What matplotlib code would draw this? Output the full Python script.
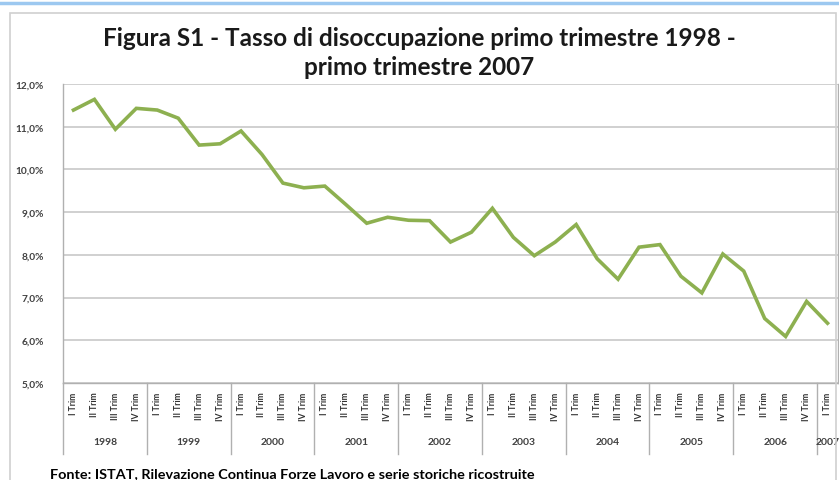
import matplotlib
matplotlib.use("Agg")
import matplotlib.pyplot as plt
from matplotlib.patches import Rectangle
import matplotlib.transforms as mtransforms

# ---- data ----
years = ["1998", "1999", "2000", "2001", "2002", "2003", "2004", "2005", "2006", "2007"]
quarters = ["I Trim", "II Trim", "III Trim", "IV Trim"]
quarters_per_year = [4, 4, 4, 4, 4, 4, 4, 4, 4, 1]
rate = [11.39, 11.64, 10.94, 11.43,
        11.39, 11.20, 10.57, 10.60,
        10.90, 10.35, 9.68, 9.57,
        9.61, 9.18, 8.74, 8.88,
        8.81, 8.80, 8.30, 8.53,
        9.09, 8.41, 7.98, 8.30,
        8.71, 7.91, 7.43, 8.18,
        8.24, 7.50, 7.11, 8.02,
        7.62, 6.51, 6.09, 6.91,
        6.40]
yticks = [5, 6, 7, 8, 9, 10, 11, 12]
title = "Figura S1 - Tasso di disoccupazione primo trimestre 1998 -\nprimo trimestre 2007"
source = "Fonte: ISTAT, Rilevazione Continua Forze Lavoro e serie storiche ricostruite"

W, H = 839, 481
fig = plt.figure(figsize=(W / 100, H / 100), dpi=100)
fig.patch.set_facecolor("white")
plt.rcParams["font.family"] = ["Lato", "DejaVu Sans"]

# outer decorations
fig.add_artist(plt.Line2D([0, 1], [1 - 4 / H, 1 - 4 / H], transform=fig.transFigure,
                          color="#9cc8f0", lw=2.5))
fig.add_artist(Rectangle((10 / W, -0.01), (836 - 10) / W, (H - 14) / H + 0.01,
                         transform=fig.transFigure, fill=False, ec="#d0d0d0", lw=1.2))

ax = fig.add_axes([63 / W, (H - 384) / H, (838 - 63) / W, (384 - 85) / H])
labels = []
for y, n in zip(years, quarters_per_year):
    labels += quarters[:n]
x = list(range(len(rate)))
ax.plot(x, rate, color="#8db050", lw=2.6, solid_joinstyle="miter", zorder=3)

ax.set_xlim(-0.5, len(rate) - 0.5)
ax.set_ylim(yticks[0], yticks[-1])
ax.set_yticks(yticks)
ax.set_yticklabels([f"{v:.1f}%".replace(".", ",") for v in yticks],
                   fontsize=7.3, fontweight="bold", color="#404040")
ax.tick_params(axis="y", length=0, pad=14)
ax.grid(axis="y", color="#c4c4c4", lw=1.1)
ax.set_axisbelow(True)

ax.set_xticks(x)
ax.set_xticklabels(labels, rotation=90, fontsize=6.2, fontweight="bold", color="#303030",
                   va="top")
ax.tick_params(axis="x", length=0, pad=6)

for s in ["top"]:
    ax.spines[s].set_visible(False)
for s in ["left", "bottom", "right"]:
    ax.spines[s].set_color("#b0b0b0")
    ax.spines[s].set_linewidth(1.0)

trans = mtransforms.blended_transform_factory(ax.transData, ax.transAxes)
ybottom = -(455 - 384) / (384 - 85)
ylab = -(443 - 384) / (384 - 85)
start = 0
for y, n in zip(years, quarters_per_year):
    end = start + n
    ax.plot([start - 0.5, start - 0.5], [0, ybottom], transform=trans, color="#b0b0b0",
            lw=1.0, clip_on=False)
    ax.text((start + end - 1) / 2, ylab, y, transform=trans, ha="center", va="center",
            fontsize=7.5, fontweight="bold", color="#404040", clip_on=False)
    start = end

fig.text(0.5, 1 - 53 / H, title, ha="center", va="center", fontsize=17.5,
         fontweight="bold", color="#1a1a1a", linespacing=1.3)
fig.text(50 / W, 1 - 474 / H, source, ha="left", va="center", fontsize=10.4,
         fontweight="bold", color="#000000")

fig.savefig("out.png", dpi=100, facecolor="white")
